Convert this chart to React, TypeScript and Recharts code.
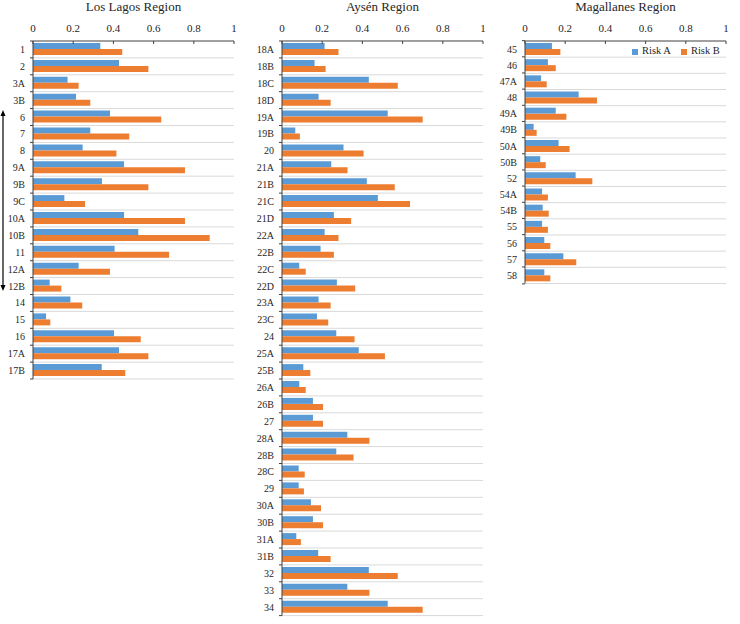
import { BarChart, Bar, XAxis, YAxis, CartesianGrid, Legend } from "recharts";

const FONT = '"Liberation Serif", "Times New Roman", serif';
const BLUE = "#5B9BD5";
const ORANGE = "#ED7D31";
const ROW = 16.9;

const xTicks = [0, 0.2, 0.4, 0.6, 0.8, 1];

// Los Lagos
const lagosSites = ["1", "2", "3A", "3B", "6", "7", "8", "9A", "9B", "9C", "10A", "10B", "11", "12A", "12B", "14", "15", "16", "17A", "17B"];
const lagosRiskA = [0.335, 0.428, 0.172, 0.214, 0.383, 0.285, 0.247, 0.453, 0.343, 0.156, 0.453, 0.524, 0.406, 0.227, 0.083, 0.186, 0.065, 0.403, 0.428, 0.342];
const lagosRiskB = [0.444, 0.574, 0.227, 0.285, 0.638, 0.479, 0.415, 0.756, 0.574, 0.259, 0.756, 0.879, 0.677, 0.383, 0.141, 0.245, 0.086, 0.536, 0.574, 0.459];

// Aysén
const aysenSites = ["18A", "18B", "18C", "18D", "19A", "19B", "20", "21A", "21B", "21C", "21D", "22A", "22B", "22C", "22D", "23A", "23C", "24", "25A", "25B", "26A", "26B", "27", "28A", "28B", "28C", "29", "30A", "30B", "31A", "31B", "32", "33", "34"];
const aysenRiskA = [0.212, 0.162, 0.432, 0.182, 0.526, 0.066, 0.306, 0.245, 0.422, 0.477, 0.258, 0.212, 0.192, 0.086, 0.273, 0.182, 0.174, 0.27, 0.382, 0.106, 0.086, 0.154, 0.154, 0.325, 0.27, 0.083, 0.083, 0.144, 0.154, 0.071, 0.18, 0.432, 0.325, 0.526];
const aysenRiskB = [0.281, 0.217, 0.576, 0.242, 0.7, 0.089, 0.406, 0.326, 0.561, 0.637, 0.344, 0.281, 0.258, 0.118, 0.364, 0.242, 0.23, 0.361, 0.512, 0.141, 0.118, 0.204, 0.204, 0.435, 0.356, 0.113, 0.109, 0.194, 0.204, 0.094, 0.242, 0.576, 0.435, 0.7];

// Magallanes
const magSites = ["45", "46", "47A", "48", "49A", "49B", "50A", "50B", "52", "54A", "54B", "55", "56", "57", "58"];
const magRiskA = [0.134, 0.114, 0.08, 0.267, 0.153, 0.043, 0.167, 0.076, 0.252, 0.085, 0.088, 0.085, 0.096, 0.191, 0.096];
const magRiskB = [0.176, 0.153, 0.108, 0.358, 0.206, 0.058, 0.222, 0.103, 0.335, 0.114, 0.118, 0.114, 0.126, 0.255, 0.126];

const XTick = ({ x, y, payload }: any) => (
  <g>
    <text x={x} y={y - 1} textAnchor="middle" style={{ fontFamily: FONT, fontSize: 11 }} fill="#262626">
      {payload.value}
    </text>
    <line x1={x} x2={x} y1={y + 8} y2={y + 11} stroke="#404040" />
  </g>
);

const makeYTick = (n: number) => ({ x, y, payload, index }: any) => (
  <g>
    <text x={x} y={y + 3.5} textAnchor="end" style={{ fontFamily: FONT, fontSize: 10 }} fill="#262626">
      {payload.value}
    </text>
    <line x1={x + 5} x2={x + 8} y1={y - ROW / 2} y2={y - ROW / 2} stroke="#404040" />
    {index === n - 1 && <line x1={x + 5} x2={x + 8} y1={y + ROW / 2} y2={y + ROW / 2} stroke="#404040" />}
  </g>
);

function Panel({ title, sites, riskA, riskB, left, axisWidth, width, marginRight, legend }: any) {
  const n = sites.length;
  const data = sites.map((name: string, i: number) => ({ name, riskA: riskA[i], riskB: riskB[i] }));
  const plotH = n * ROW;
  const plotW = width - axisWidth - marginRight;
  return (
    <div style={{ position: "absolute", left, top: 0, width, height: 41 + plotH + 8, fontFamily: FONT }}>
      <div
        style={{
          position: "absolute",
          left: axisWidth,
          width: plotW,
          top: 0,
          textAlign: "center",
          fontSize: 13,
          lineHeight: "14px",
          color: "#262626",
        }}
      >
        {title}
      </div>
      <BarChart
        width={width}
        height={41 + plotH + 8}
        data={data}
        layout="vertical"
        margin={{ top: 0, right: marginRight, bottom: 8, left: 0 }}
        barSize={6}
        barGap={0}
      >
        <CartesianGrid
          vertical={false}
          stroke="#d9d9d9"
          horizontalCoordinatesGenerator={({ offset }: any) =>
            Array.from({ length: n }, (_, i) => offset.top + ((i + 1) * offset.height) / n)
          }
        />
        <XAxis
          type="number"
          orientation="top"
          domain={[0, 1]}
          ticks={xTicks}
          height={41}
          tickLine={false}
          stroke="#404040"
          tick={<XTick />}
          interval={0}
        />
        <YAxis
          type="category"
          dataKey="name"
          width={axisWidth}
          tickLine={false}
          stroke="#404040"
          tick={makeYTick(n)}
          interval={0}
        />
        {legend && (
          <Legend
            iconType="square"
            iconSize={6}
            formatter={(v: string) => <span style={{ color: "#262626", fontFamily: FONT }}>{v}</span>}
            wrapperStyle={{ top: 45, left: 142, width: "auto", fontSize: 10.5, fontFamily: FONT }}
          />
        )}
        <Bar dataKey="riskA" name="Risk A" fill={BLUE} isAnimationActive={false} />
        <Bar dataKey="riskB" name="Risk B" fill={ORANGE} isAnimationActive={false} />
      </BarChart>
    </div>
  );
}

export default function App() {
  return (
    <div style={{ position: "absolute", left: 0, top: 0, width: 740, height: 624, background: "#fff" }}>
      <Panel title="Los Lagos Region" sites={lagosSites} riskA={lagosRiskA} riskB={lagosRiskB} left={0} axisWidth={33} width={240} marginRight={6} />
      <Panel title="Aysén Region" sites={aysenSites} riskA={aysenRiskA} riskB={aysenRiskB} left={240} axisWidth={42} width={250} marginRight={7} />
      <Panel title="Magallanes Region" sites={magSites} riskA={magRiskA} riskB={magRiskB} left={490} axisWidth={35} width={242} marginRight={6} legend />
      <svg style={{ position: "absolute", left: 0, top: 0 }} width={10} height={300}>
        <line x1={3} x2={3} y1={114} y2={287} stroke="#000" strokeWidth={1.2} />
        <polygon points="3,110 0.5,116 5.5,116" fill="#000" />
        <polygon points="3,291 0.5,285 5.5,285" fill="#000" />
      </svg>
    </div>
  );
}
